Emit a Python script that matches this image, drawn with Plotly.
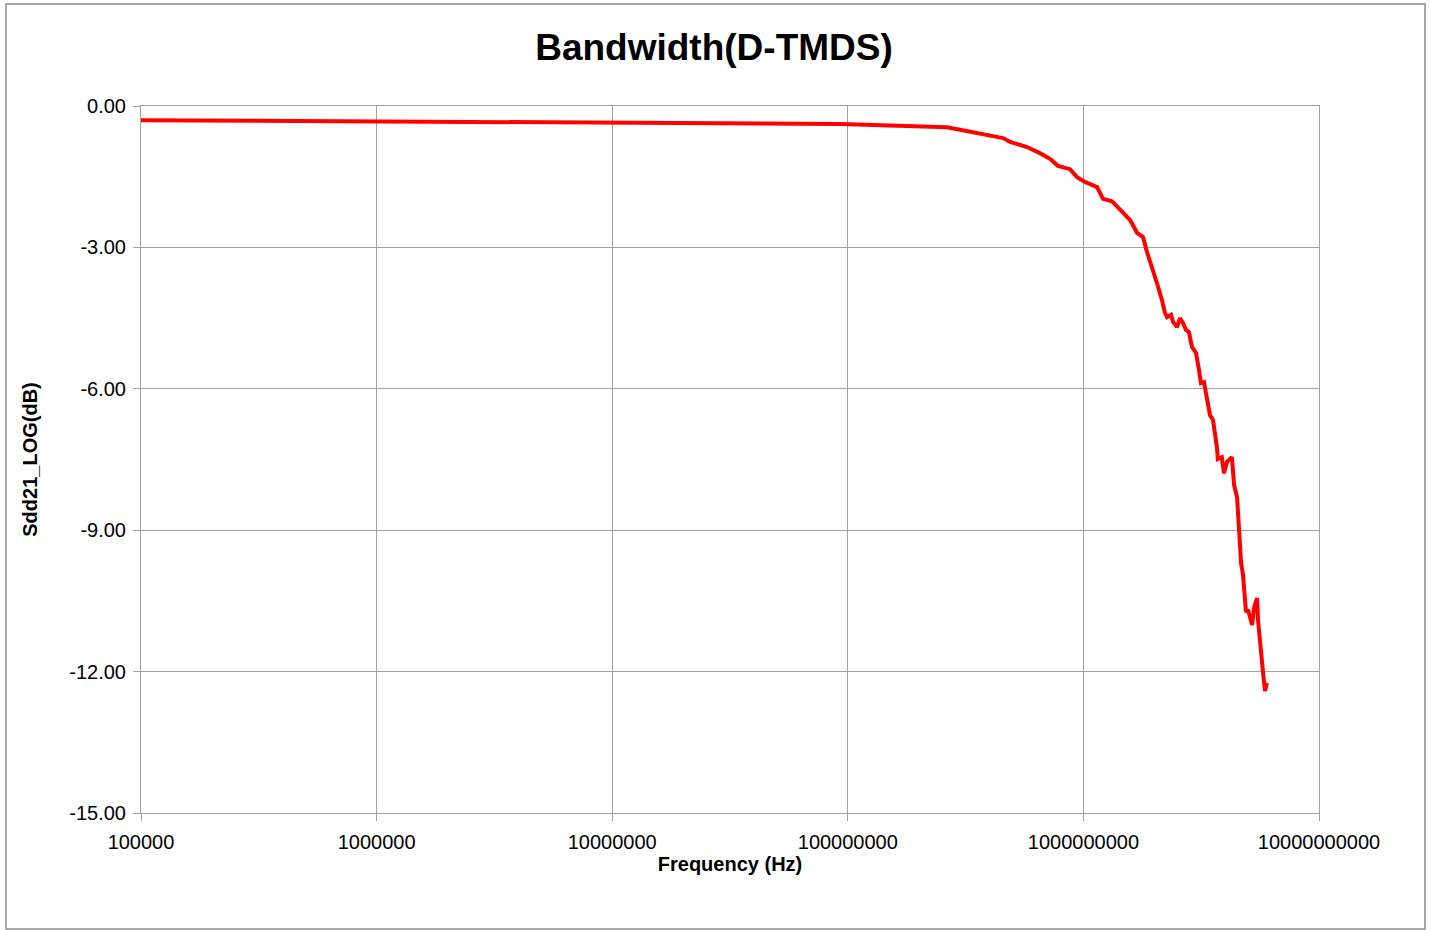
import plotly.graph_objects as go

freq_hz = [1.0e5, 1.0e6, 1.0e7, 9.27e7, 2.64e8, 3.40e8, 4.56e8, 4.88e8, 5.76e8, 6.54e8,
           7.22e8, 7.80e8, 8.77e8, 9.40e8, 1.016e9, 1.143e9, 1.211e9, 1.322e9, 1.389e9,
           1.578e9, 1.690e9, 1.791e9, 1.862e9, 1.974e9, 2.053e9, 2.156e9, 2.219e9,
           2.264e9, 2.355e9, 2.401e9, 2.496e9, 2.570e9, 2.647e9, 2.725e9, 2.806e9,
           2.889e9, 3.005e9, 3.095e9, 3.155e9, 3.249e9, 3.313e9, 3.445e9, 3.548e9,
           3.654e9, 3.69e9, 3.72e9, 3.87e9, 3.95e9, 4.07e9, 4.27e9, 4.36e9, 4.49e9,
           4.58e9, 4.67e9, 4.76e9, 4.90e9, 5.00e9, 5.20e9, 5.30e9, 5.46e9, 5.51e9,
           5.68e9, 5.79e9, 5.90e9, 6.01e9]
sdd21_db = [-0.30, -0.32, -0.36, -0.38, -0.45, -0.55, -0.68, -0.76, -0.87, -1.00,
            -1.12, -1.27, -1.34, -1.51, -1.61, -1.72, -1.97, -2.02, -2.14,
            -2.42, -2.69, -2.78, -3.10, -3.54, -3.76, -4.12, -4.39,
            -4.48, -4.43, -4.58, -4.69, -4.50, -4.60, -4.75, -4.80,
            -5.11, -5.24, -5.60, -5.88, -5.86, -6.09, -6.56, -6.66,
            -7.02, -7.25, -7.49, -7.45, -7.79, -7.55, -7.45, -8.04, -8.30,
            -9.00, -9.70, -9.95, -10.74, -10.69, -11.01, -10.65, -10.44, -10.91,
            -11.75, -12.03, -12.41, -12.24]

x_tick_vals = [1e5, 1e6, 1e7, 1e8, 1e9, 1e10]
x_tick_text = ["100000", "1000000", "10000000", "100000000", "1000000000", "10000000000"]
y_tick_vals = [0, -3, -6, -9, -12, -15]
y_tick_text = ["0.00", "-3.00", "-6.00", "-9.00", "-12.00", "-15.00"]

fig = go.Figure()
fig.add_trace(go.Scatter(x=freq_hz, y=sdd21_db, mode="lines",
                         line=dict(color="#ff0000", width=4), showlegend=False))

grid = "#a0a0a0"
fig.update_layout(
    width=1430, height=930,
    margin=dict(l=141, r=111, t=106, b=117),
    paper_bgcolor="white", plot_bgcolor="white",
    font=dict(family="Liberation Sans, Arial, sans-serif", color="black", size=20),
    title=dict(text="<b>Bandwidth(D-TMDS)</b>", x=714 / 1430, xanchor="center",
               y=1 - 47 / 930, yanchor="middle",
               font=dict(size=37)),
    xaxis=dict(type="log", range=[5, 10], tickvals=x_tick_vals, ticktext=x_tick_text,
               showgrid=True, gridcolor=grid, gridwidth=1,
               showline=True, linecolor=grid, linewidth=1, mirror=True,
               ticks="outside", ticklen=7, tickcolor=grid, zeroline=False,
               tickfont=dict(size=20), ticklabelstandoff=4,
               title=dict(text="<b>Frequency (Hz)</b>", font=dict(size=20), standoff=0)),
    yaxis=dict(range=[-15, 0], tickvals=y_tick_vals, ticktext=y_tick_text,
               showgrid=True, gridcolor=grid, gridwidth=1,
               showline=True, linecolor=grid, linewidth=1, mirror=True,
               ticks="outside", ticklen=7, tickcolor=grid, zeroline=False,
               tickfont=dict(size=20), ticklabelstandoff=3,
               title=dict(text="<b>Sdd21_LOG(dB)</b>", font=dict(size=20), standoff=26)),
    shapes=[dict(type="rect", xref="paper", yref="paper",
                 x0=(6 - 141) / 1178, x1=(1425 - 141) / 1178,
                 y0=(813 - 929) / 707, y1=(813 - 4) / 707,
                 line=dict(color="#8c8c8c", width=1.5), fillcolor="rgba(0,0,0,0)",
                 layer="below")],
)

fig.write_html("out.html", config={"displayModeBar": False},
               post_script="document.body.style.margin='0';")
